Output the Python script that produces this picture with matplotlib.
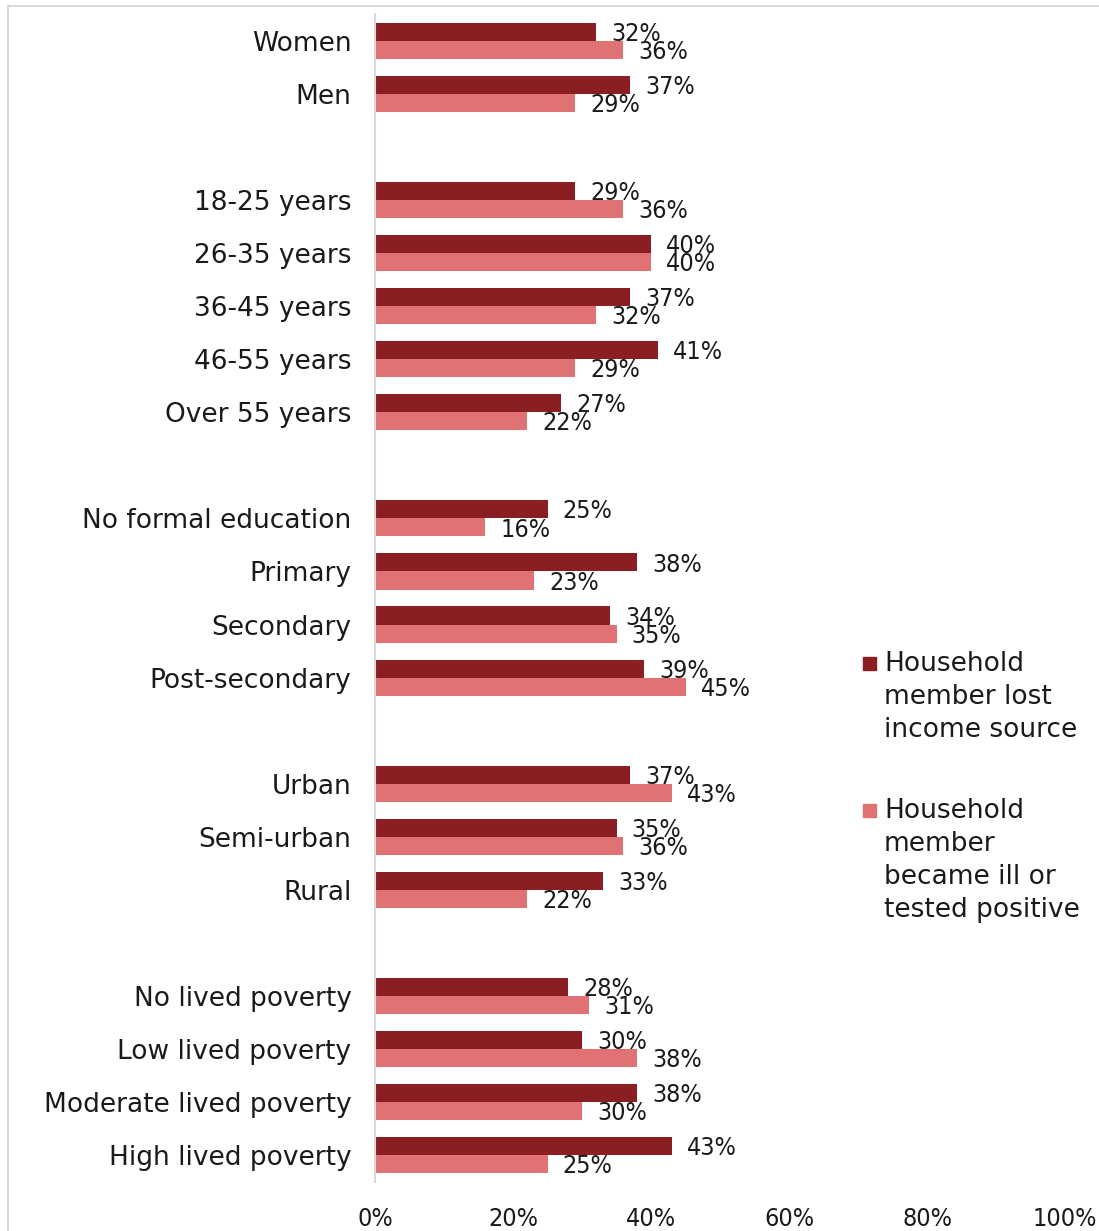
import numpy as np
import matplotlib
matplotlib.use("Agg")
import matplotlib.pyplot as plt
from matplotlib.patches import Rectangle

# Categories (empty strings are spacer rows between groups)
categories = [
    "Women", "Men", "",
    "18-25 years", "26-35 years", "36-45 years", "46-55 years", "Over 55 years", "",
    "No formal education", "Primary", "Secondary", "Post-secondary", "",
    "Urban", "Semi-urban", "Rural", "",
    "No lived poverty", "Low lived poverty", "Moderate lived poverty", "High lived poverty",
]

# Percent of respondents (None = spacer row)
lost_income = [32, 37, None, 29, 40, 37, 41, 27, None, 25, 38, 34, 39, None,
               37, 35, 33, None, 28, 30, 38, 43]
became_ill = [36, 29, None, 36, 40, 32, 29, 22, None, 16, 23, 35, 45, None,
              43, 36, 22, None, 31, 38, 30, 25]

series_names = ["Household\nmember lost\nincome source",
                "Household\nmember\nbecame ill or\ntested positive"]
colors = ["#8A1E23", "#E07274"]
xticks = [0, 20, 40, 60, 80, 100]

plt.rcParams["font.family"] = ["DejaVu Sans"]
W, H = 1099, 1231
fig = plt.figure(figsize=(W / 100, H / 100), dpi=100)

# outer chart border
fig.patches.append(Rectangle((8 / W, -0.01), 1.2, 1 - 6 / H + 0.01,
                             transform=fig.transFigure, fill=False,
                             edgecolor="#D9D9D9", linewidth=1.5))

ax = fig.add_axes([375 / W, 1 - 1181.5 / H, (1065 - 375) / W, (1181.5 - 14.5) / H])

y = np.arange(len(categories))
h = 0.34
for vals, off, c in [(lost_income, -h / 2, colors[0]), (became_ill, h / 2, colors[1])]:
    idx = [i for i, v in enumerate(vals) if v is not None]
    v = [vals[i] for i in idx]
    bars = ax.barh(y[idx] + off, v, height=h, color=c)
    for b, val in zip(bars, v):
        ax.annotate(f"{val}%", (b.get_width(), b.get_y() + b.get_height() / 2),
                    xytext=(11, -1.5), textcoords="offset points",
                    va="center", ha="left", fontsize=18, fontstretch="condensed",
                    color="#1a1a1a")

ax.set_xlim(0, 100)
ax.set_ylim(len(categories) - 0.5, -0.5)
ax.set_yticks(y)
ax.set_yticklabels(categories, fontsize=19, color="#1a1a1a")
ax.set_xticks(xticks)
ax.set_xticklabels([f"{t}%" for t in xticks], fontsize=18, fontstretch="condensed",
                   color="#1a1a1a")
ax.tick_params(axis="y", length=0, pad=17)
ax.tick_params(axis="x", length=0, pad=18.5)
for s in ["top", "right", "bottom"]:
    ax.spines[s].set_visible(False)
ax.spines["left"].set_color("#D9D9D9")
ax.spines["left"].set_linewidth(1.5)
ax.set_facecolor("none")

# legend
leg_y = [663, 810]
for name, c, ly in zip(series_names, colors, leg_y):
    fig.patches.append(Rectangle((863 / W, 1 - (ly + 7) / H), 13 / W, 13 / H,
                                 transform=fig.transFigure, color=c))
    fig.text(884 / W, 1 - (ly - 12) / H, name, fontsize=19, color="#1a1a1a",
             va="top", ha="left", linespacing=1.35)

fig.savefig("out.png", dpi=100)
